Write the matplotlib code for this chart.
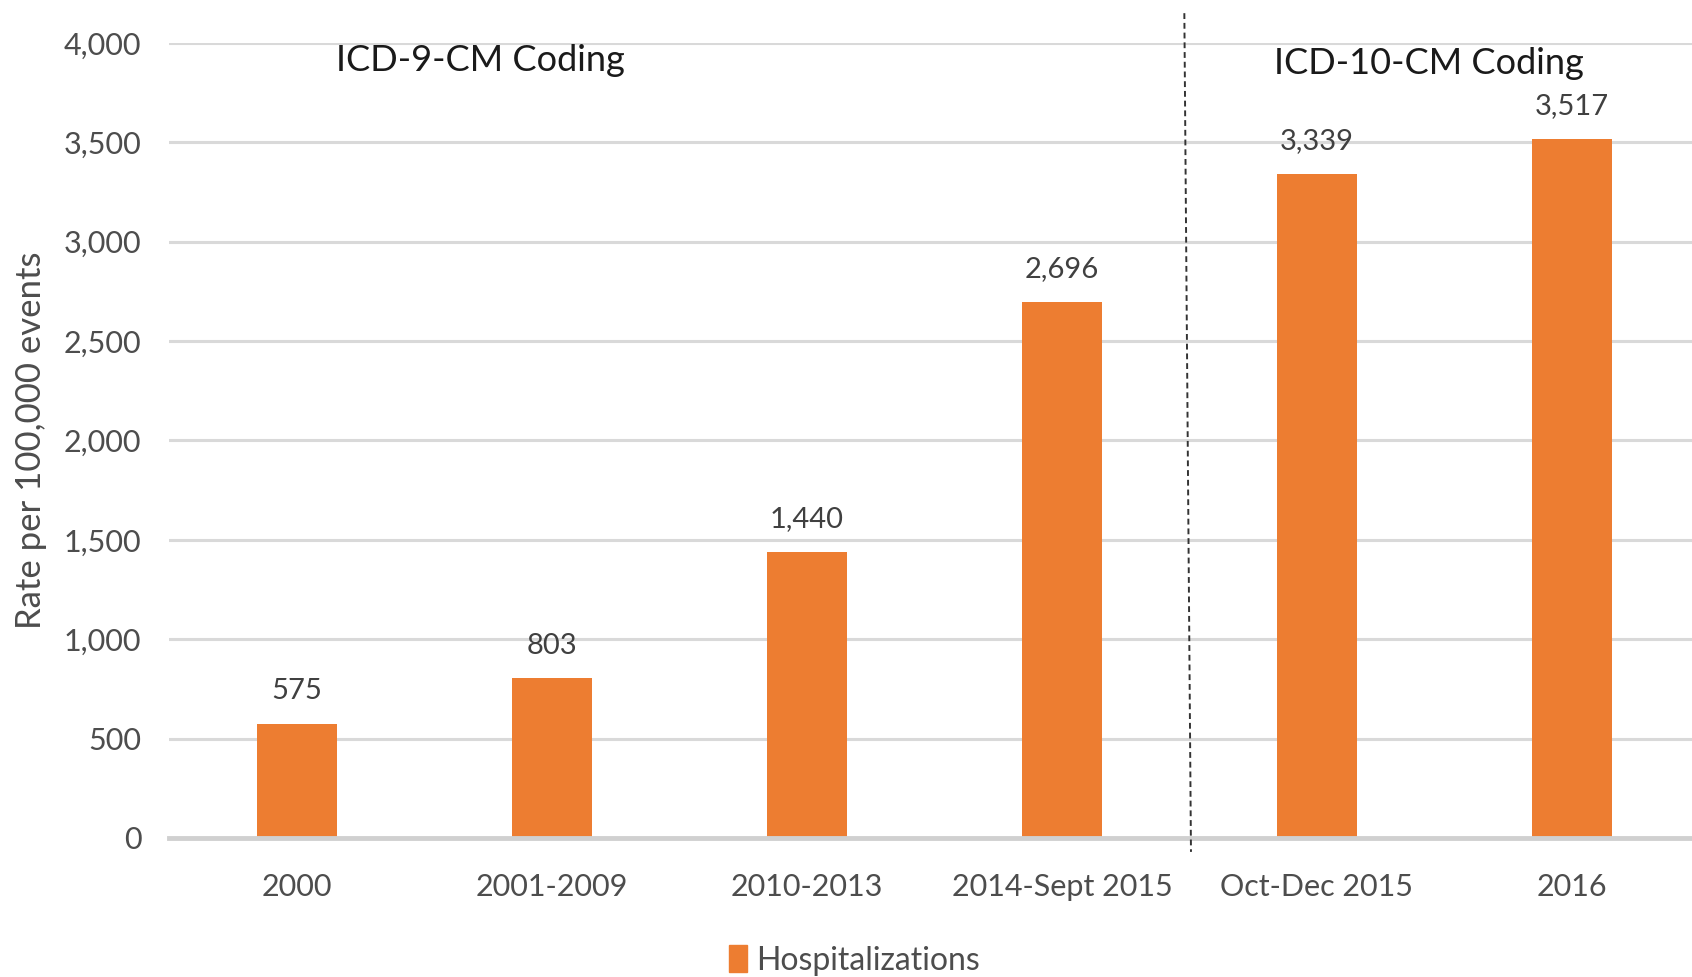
import matplotlib.pyplot as plt
from matplotlib.ticker import FuncFormatter
from matplotlib.patches import Patch

plt.rcParams['font.family'] = ['Lato', 'DejaVu Sans']

periods = ["2000", "2001-2009", "2010-2013", "2014-Sept 2015", "Oct-Dec 2015", "2016"]
rates = [575, 803, 1440, 2696, 3339, 3517]
yticks = [0, 500, 1000, 1500, 2000, 2500, 3000, 3500, 4000]

orange = "#ED7D31"
grey_txt = "#4d4d4d"

fig = plt.figure(figsize=(16.92, 9.77), dpi=100)
ax = fig.add_axes([0.0999, 0.1423, 0.9001, 0.8137])

x = list(range(len(periods)))
ax.bar(x, rates, width=0.313, color=orange, zorder=3)

for xi, v in zip(x, rates):
    ax.text(xi, v + 100, f"{v:,}", ha="center", va="bottom", fontsize=21, color="#404040")

ax.set_xlim(-0.5, 5.47)
ax.set_ylim(0, 4000)
ax.set_yticks(yticks)
ax.yaxis.set_major_formatter(FuncFormatter(lambda v, p: f"{int(v):,}"))
ax.set_xticks(x)
ax.set_xticklabels(periods)
ax.tick_params(axis="both", length=0, labelsize=22, colors=grey_txt)
ax.tick_params(axis="y", pad=20)
ax.tick_params(axis="x", pad=25)

ax.grid(axis="y", color="#D9D9D9", linewidth=2.2, zorder=0)
for s in ["top", "right", "left"]:
    ax.spines[s].set_visible(False)
ax.spines["bottom"].set_color("#D0D0D0")
ax.spines["bottom"].set_linewidth(3.5)
ax.spines["bottom"].set_zorder(4)

ax.set_ylabel("Rate per 100,000 events", fontsize=25, color=grey_txt, labelpad=12)

# coding change divider
ax.plot([3.48, 3.506], [4150, -70], color="#333333", linestyle=(0, (3, 2)),
        linewidth=1.4, clip_on=False, zorder=5)

ax.text(0.72, 3910, "ICD-9-CM Coding", ha="center", va="center", fontsize=26, color="#1a1a1a")
ax.text(4.44, 3895, "ICD-10-CM Coding", ha="center", va="center", fontsize=26, color="#1a1a1a")

fig.legend(handles=[Patch(color=orange, label="Hospitalizations")], loc="center",
           bbox_to_anchor=(0.505, 0.017), frameon=False, fontsize=23,
           handlelength=0.55, handleheight=0.9, handletextpad=0.3, labelcolor=grey_txt)

fig.savefig("out.png", dpi=100)
